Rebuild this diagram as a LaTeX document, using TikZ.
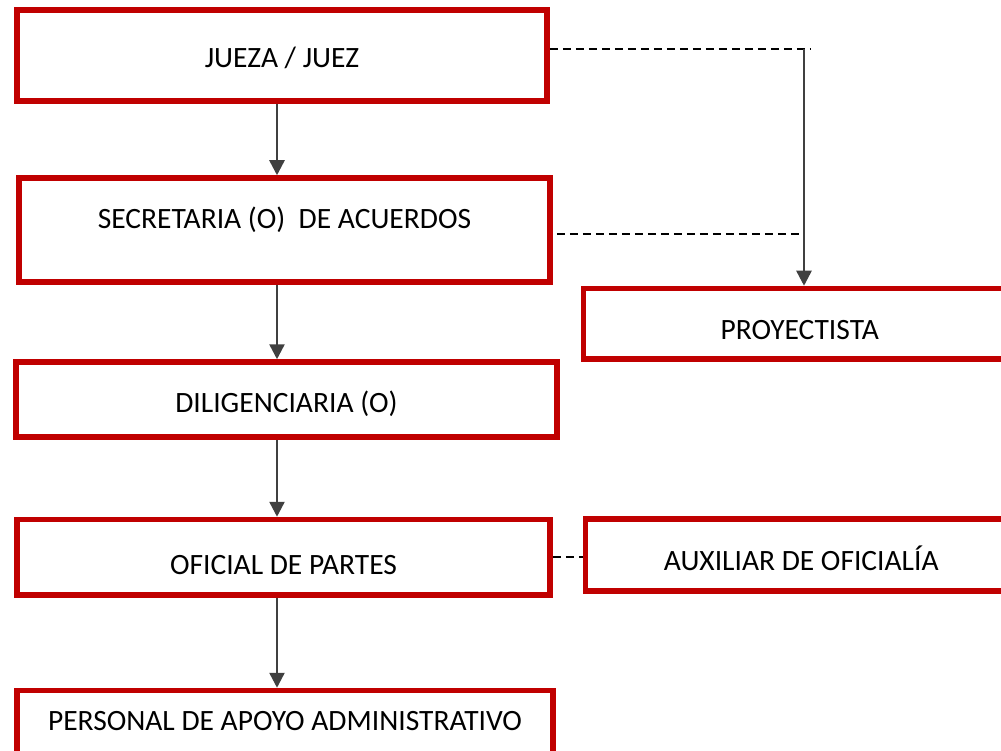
\documentclass[tikz,border=0pt]{standalone}
\usepackage{fontspec}
\setmainfont{Carlito}
\usetikzlibrary{arrows.meta}
\definecolor{boxred}{HTML}{C00000}
\definecolor{arrgray}{HTML}{404040}
\newcommand{\lbl}[2]{\raisebox{#1pt}[0pt][0pt]{#2}}
\tikzset{
  orgbox/.style={draw=boxred, line width=5.5pt, fill=white, rectangle, inner sep=0pt,
    font=\fontsize{29.5}{35}\selectfont, text=black},
  arr/.style={draw=arrgray, line width=2.5pt, -{Triangle[length=15pt,width=15pt]}},
  dline/.style={draw=black, line width=2.7pt, dash pattern=on 8pt off 5pt}
}
\begin{document}
\begin{tikzpicture}[x=1pt,y=-1pt]
\useasboundingbox (0,0) rectangle (1001,751);
\clip (0,0) rectangle (1001,751);
\node[orgbox, minimum width=530pt, minimum height=91pt] (J) at (282,55.5) {\lbl{-12.5}{JUEZA / JUEZ}};
\node[orgbox, minimum width=531pt, minimum height=104pt] (S) at (284.5,230) {\lbl{1.5}{SECRETARIA (O)\ \ DE ACUERDOS}};
\node[orgbox, minimum width=432.5pt, minimum height=70.5pt] (P) at (799.75,323.75) {\lbl{-16}{PROYECTISTA}};
\node[orgbox, minimum width=541pt, minimum height=75pt] (D) at (286.5,399.5) {\lbl{-12.5}{DILIGENCIARIA (O)}};
\node[orgbox, minimum width=533pt, minimum height=75.5pt] (O) at (283.5,557.25) {\lbl{-17.5}{OFICIAL DE PARTES}};
\node[orgbox, minimum width=431.5pt, minimum height=72pt] (A) at (801.25,555) {\lbl{-15.5}{AUXILIAR DE OFICIALÍA}};
\node[orgbox, minimum width=536pt, minimum height=99.5pt] (PE) at (285,740.25) {\lbl{9.5}{PERSONAL DE APOYO ADMINISTRATIVO}};
\coordinate (ax) at (277,0);
\coordinate (px) at (804,0);
\coordinate (jd) at (810,49);
\coordinate (jc) at (804,49);
\coordinate (sd) at (804,234);
\draw[arr] (J.south -| ax) -- (S.north -| ax);
\draw[arr] (S.south -| ax) -- (D.north -| ax);
\draw[arr] (D.south -| ax) -- (O.north -| ax);
\draw[arr] (O.south -| ax) -- (PE.north -| ax);
\draw[dline] (J.east |- jd) -- (jd);
\draw[dline] ([xshift=4pt]S.east |- sd) -- (sd);
\draw[arr] (jc) -- (P.north -| px);
\draw[dline] (O.east |- 0,557) -- (A.west |- 0,557);
\end{tikzpicture}
\end{document}
